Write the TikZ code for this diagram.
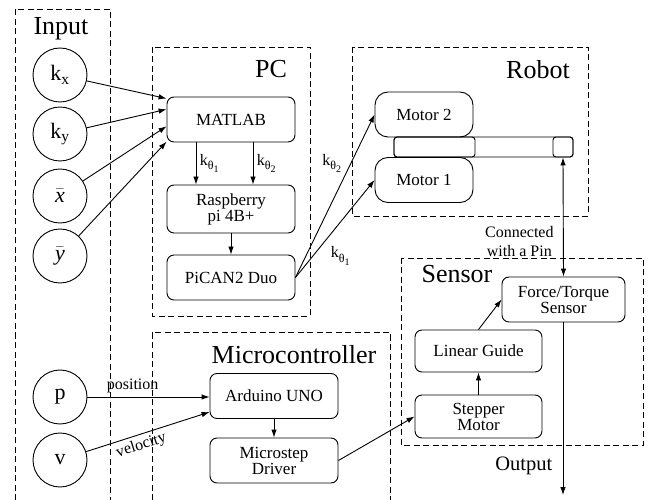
\documentclass[tikz,border=0pt]{standalone}
\usepackage{fix-cm}
\usepackage{fontspec}
\setmainfont{Liberation Serif}
\usetikzlibrary{positioning, arrows.meta}

\newcommand{\kth}[1]{k\raisebox{-0.3em}{\fontsize{12}{12}\selectfont θ\raisebox{-0.25em}{\fontsize{10}{10}\selectfont #1}}}

\begin{document}
\begin{tikzpicture}[
  x=1pt, y=-1pt,
  font=\fontsize{17}{19}\selectfont,
  box/.style={
    draw, rectangle, rounded corners=7pt,
    minimum width=128pt, minimum height=45pt,
    line width=0.9pt, align=center, inner sep=2pt
  },
  motorbox/.style={box, rounded corners=13pt, minimum width=98pt},
  linkbox/.style={draw, rectangle, rounded corners=3pt, minimum height=20pt, inner sep=0pt, line width=0.9pt},
  inp/.style={draw, circle, minimum size=54pt, line width=0.9pt, inner sep=0pt, font=\fontsize{22}{24}\selectfont},
  grp/.style={draw, dash pattern=on 6pt off 3.5pt, line width=0.9pt},
  title/.style={anchor=base, font=\fontsize{26}{28}\selectfont},
  lbl/.style={font=\fontsize{16}{19}\selectfont, align=center},
  arr/.style ={draw, -{Latex[length=8pt, width=5.5pt]}, line width=0.9pt},
  darr/.style={draw, {Latex[length=8pt, width=5.5pt]}-{Latex[length=8pt, width=5.5pt]}, line width=0.9pt},
]

\useasboundingbox (0,0) rectangle (657,500);

%% ---- dashed groups ----
\draw[grp] (15,500) -- (15,9) -- (110,9) -- (110,500);
\draw[grp] (152,47) rectangle (310,316);
\draw[grp] (352,47) rectangle (588,216);
\draw[grp] (401,258) rectangle (643,445);
\draw[grp] (152,500) -- (152,332) -- (390,332) -- (390,500);

%% ---- group titles ----
\node[title] (tInput) at (61,35) {Input};
\node[title] (tPC) at (271,78) {PC};
\node[title] (tRobot) at (538,79) {Robot};
\node[title] (tSensor) at (457,283) {Sensor};
\node[title] (tMicro) at (294,363) {Microcontroller};

%% ---- inputs ----
\node[inp] (kx) at (60,75) {k\textsubscript{x}};
\node[inp] (ky) at (60,134) {k\textsubscript{y}};
\node[inp] (xb) at (60,196) {$\bar{\mbox{\itshape x}}$};
\node[inp] (yb) at (60,256) {$\bar{\mbox{\itshape y}}$};
\node[inp] (p) at (60,397) {p};
\node[inp] (v) at (60,460) {v};

%% ---- PC ----
\node[box] (matlab) at (231,119.5) {MATLAB};
\node[box, minimum height=48pt] (rasp) at (231,209) {Raspberry\\[-3pt]pi 4B+};
\node[box] (pican) at (231,277.5) {PiCAN2 Duo};

%% ---- Robot ----
\node[motorbox] (mot2) at (424,114.5) {Motor 2};
\node[motorbox] (mot1) at (424,180) {Motor 1};
\node[linkbox, minimum width=179pt] (link) at (483.5,147) {};
\node[linkbox, minimum width=81pt] (seg) at (434.5,147) {};
\node[linkbox, minimum width=20pt] (pin) at (563,147) {};

%% ---- Sensor ----
\node[box, minimum width=123pt] (ft) at (563.5,299.5) {Force/Torque\\[-3pt]Sensor};
\node[box, minimum width=127pt, minimum height=42pt] (lg) at (478.5,351) {Linear Guide};
\node[box, minimum width=127pt, minimum height=43pt] (step) at (478.5,416.5) {Stepper\\[-3pt]Motor};
\coordinate (out) at (563,495);

%% ---- Microcontroller ----
\node[box] (ard) at (274,396) {Arduino UNO};
\node[box] (drv) at (274,460.5) {Microstep\\[-3pt]Driver};

%% ---- arrows ----
\draw[arr] (kx) -- (matlab.162);
\draw[arr] (ky) -- (matlab.171);
\draw[arr] (xb) -- (matlab.186);
\draw[arr] (yb) -- (matlab.199);

\draw[arr] ([xshift=-35pt]matlab.south) -- node[right, lbl] {\kth{1}} ([xshift=-35pt]rasp.north);
\draw[arr] ([xshift=22pt]matlab.south) -- node[right, lbl] {\kth{2}} ([xshift=22pt]rasp.north);
\draw[arr] (rasp) -- (pican);

\draw[arr] (pican.east) -- node[pos=0.7, left=6pt, lbl] {\kth{2}} (mot2.west);
\draw[arr] (pican.east) -- node[pos=0.5, below right=14pt and -8pt, lbl] {\kth{1}} (mot1.west);

\draw[darr] (pin.south) -- node[pos=0.71, left=6pt, lbl] {Connected\\with a Pin} (ft.north);
\draw[arr] (lg.north) -- (ft.west);
\draw[arr] (step) -- (lg);
\draw[arr] (ft.south -| out) -- node[pos=0.83, left=7pt, font=\fontsize{20.5}{22}\selectfont] {Output} (out);

\draw[arr] (p.east) -- node[pos=0.37, above, lbl] {position} (p.east -| ard.west);
\draw[arr] (v) -- node[pos=0.42, below, sloped, lbl] {velocity} (ard.194);
\draw[arr] (ard) -- (drv);
\draw[arr] (drv.east) -- (step.west);

\end{tikzpicture}
\end{document}
